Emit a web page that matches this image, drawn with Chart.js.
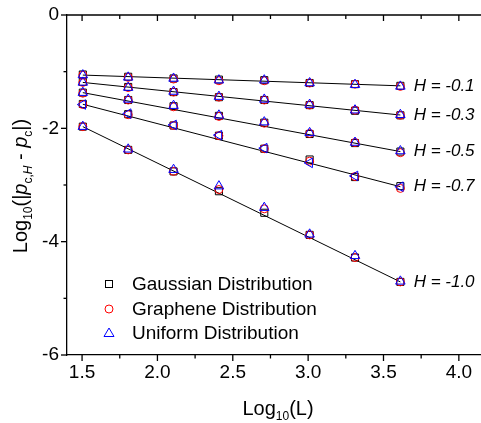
<!DOCTYPE html>
<html><head><meta charset="utf-8">
<script src="https://cdn.jsdelivr.net/npm/chart.js@4.4.1/dist/chart.umd.min.js"></script>
<style>html,body{margin:0;padding:0;background:#fff;} #wrap{width:481px;height:423px;position:relative;}</style>
</head><body><div id="wrap"><canvas id="c"></canvas></div>
<script>
// ---- data ----
const logL = [1.505, 1.806, 2.107, 2.408, 2.709, 3.010, 3.311, 3.612];
const hLabels = ['-0.1', '-0.3', '-0.5', '-0.7', '-1.0'];

const gaussH01 = [-1.05, -1.09, -1.12, -1.14, -1.15, -1.20, -1.22, -1.25];
const gaussH03 = [-1.18, -1.27, -1.36, -1.45, -1.50, -1.59, -1.69, -1.77];
const gaussH05 = [-1.37, -1.50, -1.61, -1.78, -1.90, -2.10, -2.26, -2.41];
const gaussH07 = [-1.57, -1.75, -1.95, -2.13, -2.36, -2.55, -2.86, -3.02];
const gaussH10 = [-1.97, -2.38, -2.76, -3.11, -3.49, -3.88, -4.28, -4.71];

const grapH01 = [-1.06, -1.10, -1.13, -1.16, -1.16, -1.20, -1.22, -1.26];
const grapH03 = [-1.19, -1.28, -1.36, -1.45, -1.50, -1.59, -1.68, -1.77];
const grapH05 = [-1.38, -1.50, -1.62, -1.79, -1.91, -2.09, -2.25, -2.43];
const grapH07 = [-1.58, -1.76, -1.95, -2.13, -2.36, -2.58, -2.85, -3.06];
const grapH10 = [-1.97, -2.38, -2.76, -3.08, -3.42, -3.88, -4.28, -4.71];

const uniH01 = [-1.06, -1.10, -1.12, -1.15, -1.15, -1.20, -1.23, -1.26];
const uniH03 = [-1.19, -1.28, -1.35, -1.44, -1.49, -1.58, -1.68, -1.76];
const uniH05 = [-1.37, -1.49, -1.60, -1.77, -1.89, -2.08, -2.25, -2.40];
const uniH07 = [-1.58, -1.74, -1.94, -2.12, -2.35, -2.61, -2.84, -3.03];
const uniH10 = [-1.97, -2.37, -2.73, -3.02, -3.40, -3.87, -4.25, -4.70];

const fitStart = [-1.06, -1.19, -1.37, -1.575, -1.97];
const fitEnd   = [-1.25, -1.765, -2.41, -3.03, -4.71];

const xTicks = [1.5, 2.0, 2.5, 3.0, 3.5, 4.0];
const xMinorTicks = [1.75, 2.25, 2.75, 3.25, 3.75];
const yTicks = [0, -2, -4, -6];
const yMinorTicks = [-1, -3, -5];
const labelX = 3.70;

const seriesNames = ['Gaussian Distribution', 'Graphene Distribution', 'Uniform Distribution'];
const gaussian = [gaussH01, gaussH03, gaussH05, gaussH07, gaussH10];
const graphene = [grapH01, grapH03, grapH05, grapH07, grapH10];
const uniform  = [uniH01, uniH03, uniH05, uniH07, uniH10];

// ---- build ----
const FONT = "'Liberation Sans', Arial, sans-serif";
function pts(groups) {
  const out = [];
  groups.forEach((arr, h) => arr.forEach((v, i) => out.push({x: logL[i], y: v, h})));
  return out;
}
const datasets = [];
hLabels.forEach((h, k) => {
  datasets.push({
    type: 'line', label: 'fit ' + h,
    data: [{x: logL[0], y: fitStart[k]}, {x: logL[logL.length - 1], y: fitEnd[k]}],
    borderColor: '#000', borderWidth: 1, pointRadius: 0, fill: false, order: 3
  });
});
datasets.push({type: 'scatter', label: seriesNames[0], data: pts(gaussian), pointStyle: 'rect',
  pointRadius: 5, borderColor: '#000', backgroundColor: 'rgba(0,0,0,0)', borderWidth: 1, order: 2});
datasets.push({type: 'scatter', label: seriesNames[1], data: pts(graphene), pointStyle: 'circle',
  pointRadius: 4, borderColor: '#ff0000', backgroundColor: 'rgba(0,0,0,0)', borderWidth: 1, order: 1});
datasets.push({type: 'scatter', label: seriesNames[2], data: pts(uniform), pointStyle: 'triangle',
  pointRadius: 5.5, borderColor: '#0000ff', backgroundColor: 'rgba(0,0,0,0)', borderWidth: 1, order: 0,
  pointRotation: c => (c.raw && c.raw.h === 3 ? -90 : 0)});

function richWidth(ctx, segs) {
  let w = 0;
  segs.forEach(s => { ctx.font = (s.italic ? 'italic ' : '') + s.size + 'px ' + FONT; w += ctx.measureText(s.t).width; });
  return w;
}
function drawRich(ctx, segs, x, y) {
  let cx = x - richWidth(ctx, segs) / 2;
  segs.forEach(s => {
    ctx.font = (s.italic ? 'italic ' : '') + s.size + 'px ' + FONT;
    ctx.fillText(s.t, cx, y + (s.dy || 0));
    cx += ctx.measureText(s.t).width;
  });
}

const decor = {
  id: 'decor',
  afterDraw(chart) {
    const {ctx, chartArea: ca, scales: {x, y}} = chart;
    ctx.save();
    ctx.strokeStyle = '#000'; ctx.lineWidth = 1.3; ctx.fillStyle = '#000';
    const seg = (x1, y1, x2, y2) => { ctx.beginPath(); ctx.moveTo(x1, y1); ctx.lineTo(x2, y2); ctx.stroke(); };
    seg(ca.left, ca.top, ca.right, ca.top);
    xTicks.forEach(v => { const p = x.getPixelForValue(v); seg(p, ca.bottom, p, ca.bottom + 6); seg(p, ca.top, p, ca.top + 6); });
    xMinorTicks.forEach(v => { const p = x.getPixelForValue(v); seg(p, ca.bottom, p, ca.bottom + 3.5); seg(p, ca.top, p, ca.top + 4); });
    yTicks.forEach(v => { const p = y.getPixelForValue(v); seg(ca.left - 6, p, ca.left, p); });
    yMinorTicks.forEach(v => { const p = y.getPixelForValue(v); seg(ca.left - 3.5, p, ca.left, p); });

    // H labels
    ctx.textBaseline = 'middle'; ctx.textAlign = 'left';
    hLabels.forEach((h, k) => {
      const px = x.getPixelForValue(labelX), py = y.getPixelForValue(fitEnd[k]);
      ctx.font = 'italic 17px ' + FONT;
      ctx.fillText('H = ' + h, px, py);
    });

    // legend
    const lx = 109, ly = [284, 309, 333];
    ctx.lineWidth = 1;
    ctx.strokeStyle = '#000'; ctx.strokeRect(lx - 3.5, ly[0] - 3.5, 7, 7);
    ctx.strokeStyle = '#ff0000'; ctx.beginPath(); ctx.arc(lx, ly[1], 4, 0, Math.PI * 2); ctx.stroke();
    ctx.strokeStyle = '#0000ff'; ctx.beginPath();
    ctx.moveTo(lx, ly[2] - 5); ctx.lineTo(lx + 5, ly[2] + 3.5); ctx.lineTo(lx - 5, ly[2] + 3.5); ctx.closePath(); ctx.stroke();
    ctx.font = '19px ' + FONT; ctx.fillStyle = '#000';
    seriesNames.forEach((n, i) => ctx.fillText(n, 132, ly[i] + 1));

    // axis titles
    ctx.textBaseline = 'alphabetic'; ctx.textAlign = 'left';
    drawRich(ctx, [{t: 'Log', size: 20}, {t: '10', size: 12, dy: 5}, {t: '(L)', size: 20}], 278, 415);
    ctx.translate(27, 186); ctx.rotate(-Math.PI / 2);
    drawRich(ctx, [
      {t: 'Log', size: 20}, {t: '10', size: 12, dy: 5}, {t: '(|', size: 20},
      {t: 'p', size: 20, italic: true}, {t: 'c,', size: 12, dy: 5}, {t: 'H', size: 12, dy: 5, italic: true},
      {t: ' - ', size: 20}, {t: 'p', size: 20, italic: true}, {t: 'c', size: 12, dy: 5}, {t: '|)', size: 20}
    ], 0, 0);
    ctx.restore();
  }
};

Chart.defaults.color = '#000';
new Chart(document.getElementById('c'), {
  data: {datasets},
  options: {
    responsive: true, maintainAspectRatio: false, animation: false,
    layout: {autoPadding: false, padding: {top: 15, left: 0, right: 0, bottom: 0}},
    plugins: {legend: {display: false}, tooltip: {enabled: false}},
    scales: {
      x: {
        type: 'linear', position: 'bottom', min: 1.4, max: 4.147,
        grid: {display: false, drawTicks: false},
        border: {display: true, color: '#000', width: 1.3},
        ticks: {font: {size: 19, family: FONT}, padding: 6, color: '#000', callback: v => Number(v).toFixed(1)},
        afterBuildTicks: s => { s.ticks = xTicks.map(v => ({value: v})); },
        afterFit: s => { s.height = 68; s.paddingLeft = 0; s.paddingRight = 0; s.paddingTop = 0; s.paddingBottom = 0; }
      },
      y: {
        type: 'linear', position: 'left', min: -6, max: 0,
        grid: {display: false, drawTicks: false},
        border: {display: true, color: '#000', width: 1.3},
        ticks: {font: {size: 19, family: FONT}, padding: 8, color: '#000', callback: v => String(v)},
        afterBuildTicks: s => { s.ticks = yTicks.map(v => ({value: v})); },
        afterFit: s => { s.width = 67; s.paddingLeft = 0; s.paddingRight = 0; s.paddingTop = 0; s.paddingBottom = 0; }
      }
    }
  },
  plugins: [decor]
});
</script></body></html>
